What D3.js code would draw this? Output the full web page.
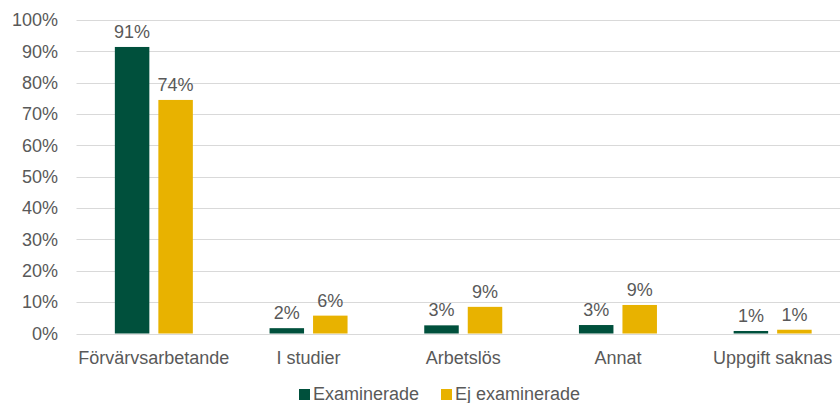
<!DOCTYPE html>
<html>
<head>
<meta charset="utf-8">
<script src="https://cdn.jsdelivr.net/npm/d3@7"></script>
<style>
  body { margin: 0; background: #fff; }
  svg text { font-family: "Liberation Sans", Arial, sans-serif; fill: #595959; }
</style>
</head>
<body>
<svg width="840" height="403"></svg>
<script>
const categories = ["Förvärvsarbetande", "I studier", "Arbetslös", "Annat", "Uppgift saknas"];
const seriesNames = ["Examinerade", "Ej examinerade"];
const examinerade = [91.4, 1.7, 2.6, 2.7, 0.8];
const ejExaminerade = [74.5, 5.7, 8.5, 9.1, 1.2];
const labelsExam = ["91%", "2%", "3%", "3%", "1%"];
const labelsEj = ["74%", "6%", "9%", "9%", "1%"];
const yTicks = [0, 10, 20, 30, 40, 50, 60, 70, 80, 90, 100];
const colors = ["#00503C", "#E8B200"];

const svg = d3.select("svg");

const x = d3.scaleBand()
    .domain(categories)
    .range([76.5, 850]);

const y = d3.scaleLinear()
    .domain([0, 100])
    .range([333.5, 20]);

const barWidth = 34.5;
const gap = 9;
const fontSize = 18;

// gridlines
svg.append("g")
    .selectAll("line")
    .data(yTicks)
    .enter()
    .append("line")
    .attr("x1", 76.5)
    .attr("x2", 850)
    .attr("y1", d => Math.round(y(d)) + 0.5)
    .attr("y2", d => Math.round(y(d)) + 0.5)
    .attr("stroke", "#D9D9D9")
    .attr("stroke-width", 1);

// y tick labels
svg.append("g")
    .selectAll("text")
    .data(yTicks)
    .enter()
    .append("text")
    .attr("x", 58)
    .attr("y", d => y(d))
    .attr("dy", "0.35em")
    .attr("text-anchor", "end")
    .attr("font-size", fontSize)
    .text(d => d + "%");

const series = [examinerade, ejExaminerade];
const seriesLabels = [labelsExam, labelsEj];

series.forEach((values, s) => {
    const offset = s === 0 ? -(gap / 2 + barWidth) : gap / 2;
    const g = svg.append("g");
    g.selectAll("rect")
        .data(values)
        .enter()
        .append("rect")
        .attr("x", (d, i) => x(categories[i]) + x.bandwidth() / 2 + offset)
        .attr("y", d => y(d))
        .attr("width", barWidth)
        .attr("height", d => y(0) - y(d))
        .attr("fill", colors[s]);

    g.selectAll("text")
        .data(values)
        .enter()
        .append("text")
        .attr("x", (d, i) => x(categories[i]) + x.bandwidth() / 2 + offset + barWidth / 2)
        .attr("y", d => y(d) - 9)
        .attr("text-anchor", "middle")
        .attr("font-size", fontSize)
        .text((d, i) => seriesLabels[s][i]);
});

// category labels
svg.append("g")
    .selectAll("text")
    .data(categories)
    .enter()
    .append("text")
    .attr("x", d => x(d) + x.bandwidth() / 2)
    .attr("y", 358)
    .attr("dy", "0.35em")
    .attr("text-anchor", "middle")
    .attr("font-size", fontSize)
    .text(d => d);

// legend
const legendX = [299, 441];
const legend = svg.append("g");
seriesNames.forEach((name, i) => {
    legend.append("rect")
        .attr("x", legendX[i])
        .attr("y", 389)
        .attr("width", 11)
        .attr("height", 11)
        .attr("fill", colors[i]);
    legend.append("text")
        .attr("x", legendX[i] + 14)
        .attr("y", 394)
        .attr("dy", "0.35em")
        .attr("font-size", fontSize)
        .text(name);
});
</script>
</body>
</html>
